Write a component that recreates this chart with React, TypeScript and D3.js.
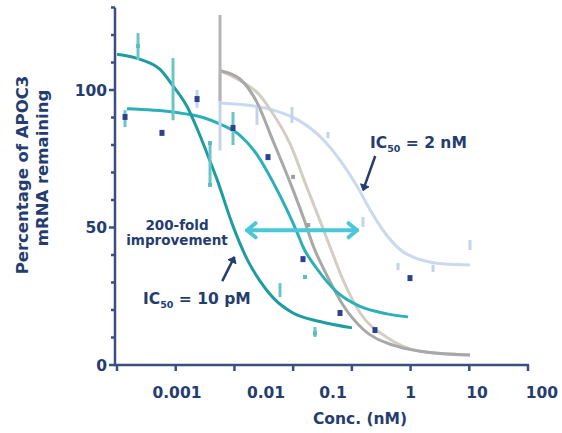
import React from 'react';
import * as d3 from 'd3';

// ---- axis data ----
const xTickValues = [1e-5, 1e-4, 1e-3, 1e-2, 1e-1, 1, 10, 100];
const xTickLabels = ['0.001', '0.01', '0.1', '1', '10', '100'];
const xTickLabelAnchors = [1.05e-4, 3.45e-3, 0.0478, 1, 13.5, 173];
const yMajorTicks = [0, 50, 100];
const yMinorTicks = [10, 20, 30, 40, 60, 70, 80, 90, 110, 120, 130];

// ---- fitted curves (conc nM, % remaining) ----
const curveA: [number, number][] = [
  [1e-5, 113], [2.77e-5, 110.8], [5.4e-5, 107.5], [9e-5, 101.5], [1.56e-4, 94],
  [2.31e-4, 86], [3.41e-4, 77], [5.05e-4, 67.5], [9.46e-4, 50.5], [1.64e-3, 38.5],
  [2.73e-3, 30.5], [4.54e-3, 24.5], [9.95e-3, 18.9], [0.0286, 15.8], [0.1005, 13.5],
];
const curveB: [number, number][] = [
  [1.48e-5, 93.2], [9e-5, 92], [2.92e-4, 90], [5.68e-4, 87.6], [1.24e-3, 83.5],
  [2.42e-3, 76.5], [4.54e-3, 66.5], [7.85e-3, 56.4], [0.01164, 48.3], [0.01472, 43],
  [0.02547, 35], [0.05585, 26.5], [0.1377, 21.3], [0.3972, 18.6], [0.9036, 17.5],
];
const curveC: [number, number][] = [
  [5.68e-4, 107], [1.24e-3, 104], [2.42e-3, 95.5], [4.54e-3, 81.5], [8.83e-3, 66.5],
  [0.01472, 54], [0.02178, 43.5], [0.03776, 32.5], [0.07063, 21.8], [0.1549, 13],
  [0.5023, 7.2], [1.449, 5], [10.28, 3.6],
];
const curveD: [number, number][] = [
  [5.68e-4, 107], [1.24e-3, 103.5], [2.73e-3, 98], [4.04e-3, 93], [8.83e-3, 80.5],
  [0.01722, 64.5], [0.02864, 52.5], [0.04246, 43], [0.07063, 31], [0.1377, 19],
  [0.3972, 10], [1.449, 5], [10.28, 3.6],
];
const curveE: [number, number][] = [
  [5.68e-4, 95.3], [2.42e-3, 94], [4.54e-3, 92.7], [0.01164, 89.3], [0.03228, 82],
  [0.0628, 74.5], [0.1225, 65], [0.2037, 56.5], [0.3388, 49], [0.6607, 42],
  [1.629, 38], [4.7, 36.6], [10.28, 36.4],
];

// ---- error bars [conc, low, high] ----
const tealBars: [number, number, number][] = [
  [2.28e-5, 110.9, 120.7], [9e-5, 89, 111.6], [3.84e-4, 65.5, 80.7],
  [5.97e-3, 24.7, 29.8], [0.02355, 10.2, 13.8], [9.46e-4, 80, 92], [1.37e-5, 86.5, 92.7],
];
const lightBlueBars: [number, number, number][] = [
  [2.31e-4, 93.5, 100], [5.68e-4, 78, 106], [2.42e-3, 87.3, 93.8], [9.55e-3, 88, 93.8],
  [0.03926, 82.5, 84.7], [0.1549, 50.2, 53.8], [0.6109, 34.5, 37.1], [2.41, 33.8, 36.4],
  [10.28, 41.8, 45.5],
];
const grayBars: [number, number, number][] = [[5.68e-4, 96, 127.3]];

// ---- markers [conc, value] ----
const navyPoints: [number, number][] = [
  [1.37e-5, 90.2], [5.83e-5, 84.4], [2.31e-4, 96.7], [9.46e-4, 86.2], [3.73e-3, 75.6],
  [0.01472, 38.5], [0.0628, 18.9], [0.2477, 12.7], [0.977, 31.6],
];
const tealPoints: [number, number][] = [
  [2.28e-5, 116], [3.84e-4, 80.7], [3.84e-4, 65.5], [0.01592, 32], [0.02355, 11.5],
];
const grayPoints: [number, number][] = [[9.95e-3, 68.4], [0.0181, 50.9]];

// ---- annotation anchors (data coords) ----
const foldArrow: [number, number][] = [[1.64e-3, 49], [0.1225, 49]];
const ic10Arrow: [number, number][] = [[6.2e-4, 30.5], [1.0e-3, 39.3]];
const ic2Arrow: [number, number][] = [[0.25, 76], [0.1549, 63.5]];

const NAVY = '#243d6e';
const AXIS = '#3a4f7e';
const FONT = 'DejaVu Sans, sans-serif';

export default function App() {
  const x = d3.scaleLog().domain([1e-5, 100]).range([117, 528]);
  const y = d3.scaleLinear().domain([0, 130]).range([365, 7.5]);
  const line = d3
    .line<[number, number]>()
    .x((d) => x(d[0]))
    .y((d) => y(d[1]))
    .curve(d3.curveMonotoneX);

  const curves: { data: [number, number][]; color: string }[] = [
    { data: curveE, color: '#c9daee' },
    { data: curveD, color: '#d3cec4' },
    { data: curveC, color: '#a8a8a8' },
    { data: curveB, color: '#2bb0b8' },
    { data: curveA, color: '#1f9ca2' },
  ];

  const bars = (arr: [number, number, number][], color: string, key: string) =>
    arr.map((b, i) => (
      <line key={key + i} x1={x(b[0])} x2={x(b[0])} y1={y(b[1])} y2={y(b[2])} stroke={color} strokeWidth={3} />
    ));

  const arrowHead = (tip: [number, number], from: [number, number], size: number) => {
    const ang = Math.atan2(tip[1] - from[1], tip[0] - from[0]);
    const a1 = ang + Math.PI * 0.78;
    const a2 = ang - Math.PI * 0.78;
    return `M${tip[0] + size * Math.cos(a1)},${tip[1] + size * Math.sin(a1)}L${tip[0]},${tip[1]}L${tip[0] + size * Math.cos(a2)},${tip[1] + size * Math.sin(a2)}`;
  };

  const fa0: [number, number] = [x(foldArrow[0][0]), y(foldArrow[0][1])];
  const fa1: [number, number] = [x(foldArrow[1][0]), y(foldArrow[1][1])];
  const i10a: [number, number] = [x(ic10Arrow[0][0]), y(ic10Arrow[0][1])];
  const i10b: [number, number] = [x(ic10Arrow[1][0]), y(ic10Arrow[1][1])];
  const i2a: [number, number] = [x(ic2Arrow[0][0]), y(ic2Arrow[0][1])];
  const i2b: [number, number] = [x(ic2Arrow[1][0]), y(ic2Arrow[1][1])];

  return (
    <svg width={562} height={433} style={{ position: 'absolute', left: 0, top: 0, background: '#fff' }} fontFamily={FONT}>
      {/* curves */}
      {curves.map((c, i) => (
        <path key={'c' + i} d={line(c.data) || ''} fill="none" stroke={c.color} strokeWidth={3} />
      ))}
      {/* error bars */}
      {bars(lightBlueBars, '#c3d4ea', 'lb')}
      {bars(grayBars, '#b4b4b4', 'gb')}
      {bars(tealBars, '#6cc4c6', 'tb')}
      {/* markers */}
      {tealPoints.map((p, i) => (
        <rect key={'tp' + i} x={x(p[0]) - 2} y={y(p[1]) - 2} width={4} height={4} fill="#5cbcbe" />
      ))}
      {grayPoints.map((p, i) => (
        <rect key={'gp' + i} x={x(p[0]) - 2} y={y(p[1]) - 2} width={4} height={4} fill="#a0a0a0" />
      ))}
      {navyPoints.map((p, i) => (
        <rect key={'np' + i} x={x(p[0]) - 2.5} y={y(p[1]) - 3} width={5} height={6} fill="#2e4191" />
      ))}

      {/* fold-change double arrow */}
      <g stroke="#4ac8d8" strokeWidth={4} fill="none" strokeLinecap="round" strokeLinejoin="round">
        <line x1={fa0[0]} y1={fa0[1]} x2={fa1[0]} y2={fa1[1]} />
        <path d={arrowHead(fa0, fa1, 11)} />
        <path d={arrowHead(fa1, fa0, 11)} />
      </g>

      {/* annotation arrows */}
      <g stroke={NAVY} strokeWidth={2.5} fill="none">
        <line x1={i10a[0]} y1={i10a[1]} x2={i10b[0]} y2={i10b[1]} />
        <line x1={i2a[0]} y1={i2a[1]} x2={i2b[0]} y2={i2b[1]} />
      </g>
      <path d={arrowHead(i10b, i10a, 7) + 'Z'} fill={NAVY} stroke={NAVY} strokeWidth={1} />
      <path d={arrowHead(i2b, i2a, 7) + 'Z'} fill={NAVY} stroke={NAVY} strokeWidth={1} />

      {/* annotation text */}
      <g fill={NAVY} fontWeight="bold">
        <text x={370} y={148} fontSize={15.5}>
          IC<tspan fontSize={9.5} dy={4}>50</tspan>
          <tspan dy={-4}> = 2 nM</tspan>
        </text>
        <text x={143} y={304} fontSize={15.5}>
          IC<tspan fontSize={9.5} dy={4}>50</tspan>
          <tspan dy={-4}> = 10 pM</tspan>
        </text>
        <text x={177} y={230} fontSize={13.5} textAnchor="middle">200-fold</text>
        <text x={177} y={245} fontSize={13.5} textAnchor="middle">improvement</text>
      </g>

      {/* y axis */}
      <line x1={115} x2={115} y1={y(130)} y2={y(0)} stroke={AXIS} strokeWidth={2.5} />
      {yMinorTicks.map((t) => (
        <line key={'ym' + t} x1={111} x2={115} y1={y(t)} y2={y(t)} stroke={AXIS} strokeWidth={2.5} />
      ))}
      {yMajorTicks.map((t) => (
        <g key={'yM' + t}>
          <line x1={109} x2={115} y1={y(t)} y2={y(t)} stroke={AXIS} strokeWidth={2.5} />
          <text x={107} y={y(t)} dy="0.36em" textAnchor="end" fontSize={15.5} fontWeight="bold" fill={NAVY}>
            {t}
          </text>
        </g>
      ))}

      {/* x axis */}
      <line x1={114} x2={x(100) + 1} y1={365} y2={365} stroke={AXIS} strokeWidth={2.5} />
      {xTickValues.map((t, i) => (
        <line key={'xt' + i} x1={x(t)} x2={x(t)} y1={365} y2={371} stroke={AXIS} strokeWidth={2.5} />
      ))}
      {xTickLabels.map((l, i) => (
        <text key={'xl' + i} x={x(xTickLabelAnchors[i])} y={398} textAnchor="middle" fontSize={15.5} fontWeight="bold" fill={NAVY}>
          {l}
        </text>
      ))}
      <text x={360} y={424} textAnchor="middle" fontSize={15.5} fontWeight="bold" fill={NAVY}>
        Conc. (nM)
      </text>

      {/* y title */}
      <text transform="translate(28,175) rotate(-90)" textAnchor="middle" fontSize={16.5} fontWeight="bold" fill={NAVY}>
        Percentage of APOC3
      </text>
      <text transform="translate(48,168) rotate(-90)" textAnchor="middle" fontSize={16.5} fontWeight="bold" fill={NAVY}>
        mRNA remaining
      </text>
    </svg>
  );
}
